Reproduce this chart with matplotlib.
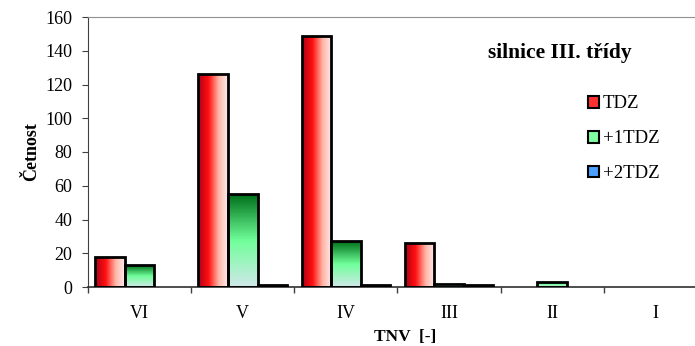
import numpy as np
import matplotlib
matplotlib.use("Agg")
import matplotlib.pyplot as plt
from matplotlib.colors import LinearSegmentedColormap
from matplotlib.patches import Patch

categories = ["VI", "V", "IV", "III", "II", "I"]
tdz = [18, 126, 149, 26, 0, 0]
tdz1 = [13, 55, 27, 2, 3, 0]
tdz2 = [0, 1, 1, 1, 0, 0]
series_names = ["TDZ", "+1TDZ", "+2TDZ"]

serif = ["Liberation Serif", "DejaVu Serif"]
plt.rcParams["font.family"] = serif

fig = plt.figure(figsize=(6.95, 3.46), dpi=100)
ax = fig.add_axes([88/695, 59/346, 619/695, 270/346])

red_cmap = LinearSegmentedColormap.from_list("r", [(0, "#b0001a"), (0.35, "#ff1010"), (0.7, "#ffb8a8"), (1, "#ffe8ec")])
green_cmap = LinearSegmentedColormap.from_list("g", [(0, "#cfe8e8"), (0.5, "#70ff9a"), (1, "#00701a")])
blue_cmap = LinearSegmentedColormap.from_list("b", [(0, "#cfe0f0"), (0.5, "#4aa0ff"), (1, "#0040a0")])

x = np.arange(len(categories))
w = 0.286
offs = [-w, 0, w]
data = [tdz, tdz1, tdz2]
cmaps = [red_cmap, green_cmap, blue_cmap]
horiz = [True, False, False]

ax.set_xlim(-0.5, len(categories) - 0.5)
ax.set_ylim(0, 160)

for vals, off, cm, hz in zip(data, offs, cmaps, horiz):
    bars = ax.bar(x + off, vals, w, facecolor="none", edgecolor="black", linewidth=2, zorder=3)
    for b, v in zip(bars, vals):
        if v <= 0:
            b.set_visible(False)
            continue
        x0, y0 = b.get_x(), b.get_y()
        bw, bh = b.get_width(), b.get_height()
        if hz:
            grad = np.linspace(0, 1, 64).reshape(1, -1)
        else:
            grad = np.linspace(0, 1, 64).reshape(-1, 1)
        im = ax.imshow(grad, cmap=cm, aspect="auto", extent=(x0, x0 + bw, y0, y0 + bh),
                       origin="lower", zorder=2)
        im.set_clip_path(b)

ax.set_xlim(-0.5, len(categories) - 0.5)
ax.set_ylim(0, 160)

ax.set_xticks(x)
ax.set_xticklabels(categories, fontsize=13)
ax.set_xticks(np.arange(-0.5, len(categories), 1), minor=True)
ax.tick_params(axis="x", which="major", length=0, pad=13)
ax.tick_params(axis="x", which="minor", length=4.5, direction="out", width=1, color="#404040")
ax.set_yticks(np.arange(0, 161, 20))
ax.tick_params(axis="y", labelsize=13, length=4.5, direction="out", color="#404040", pad=7)

ax.spines["right"].set_visible(False)
ax.spines["top"].set_color("#909090")
ax.spines["left"].set_color("#404040")
ax.spines["bottom"].set_color("#303030")
ax.spines["bottom"].set_linewidth(1.2)

ax.set_ylabel("Četnost", fontsize=13, fontweight="bold")
ax.yaxis.set_label_coords(-(88 - 32) / 619, 0.5)
ax.set_xlabel("TNV  [-]", fontsize=12.5, fontweight="bold")
ax.xaxis.set_label_coords((405 - 88) / 619, -(337 - 287) / 270)
ax.xaxis.label.set_va("center")
ax.yaxis.label.set_va("center")

fig.text(560/695, 1 - 53/346, "silnice III. třídy", fontsize=15.5, fontweight="bold",
         ha="center", va="center")

handles = [Patch(facecolor="#ff3030", edgecolor="black", linewidth=1.5),
           Patch(facecolor="#80ffa0", edgecolor="black", linewidth=1.5),
           Patch(facecolor="#4aa0ff", edgecolor="black", linewidth=1.5)]
leg = fig.legend(handles, series_names, loc="upper left", bbox_to_anchor=(580/695, 1 - 88/346),
                 frameon=False, fontsize=13.5, handlelength=0.6, handleheight=0.6,
                 handletextpad=0.2, labelspacing=0.95, borderaxespad=0)

fig.savefig("out.png", dpi=100)
